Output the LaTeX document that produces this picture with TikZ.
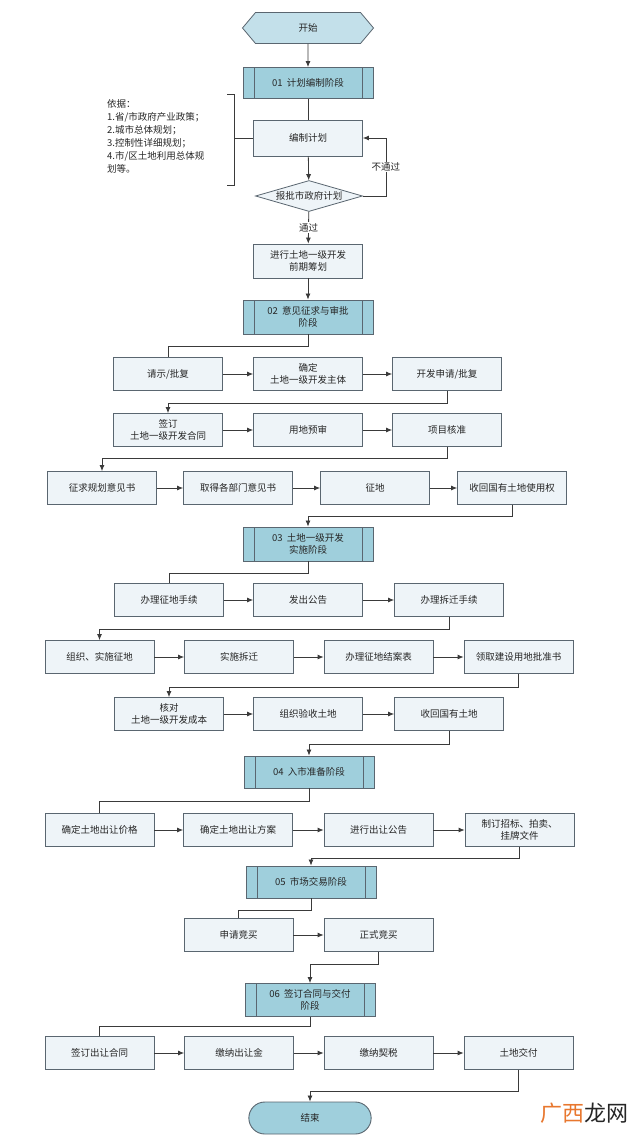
\documentclass[tikz,border=0pt]{standalone}
\usepackage{fontspec}
\setmainfont{Noto Sans CJK SC}
\usetikzlibrary{shapes.geometric,shapes.symbols,shapes.misc,arrows.meta}
\definecolor{ln}{HTML}{3A3A3A}
\definecolor{bxf}{HTML}{EEF4F8}
\definecolor{bxd}{HTML}{5A6670}
\definecolor{stf}{HTML}{9FCFDC}
\definecolor{stt}{HTML}{C3E0EA}
\begin{document}
\begin{tikzpicture}[x=1pt,y=-1pt,
  every node/.style={font=\fontsize{9.5}{12}\selectfont, text=black!85},
  box/.style={draw=bxd, fill=bxf, line width=0.8pt, minimum width=109pt, minimum height=33pt, inner sep=1pt, align=center},
  stage/.style={draw=bxd, fill=stf, line width=0.9pt, minimum width=130pt, minimum height=33pt, inner sep=1pt, align=center,
    path picture={\draw[bxd,line width=0.8pt] ([xshift=11pt]path picture bounding box.north west) -- ([xshift=11pt]path picture bounding box.south west);
                  \draw[bxd,line width=0.8pt] ([xshift=-11pt]path picture bounding box.north east) -- ([xshift=-11pt]path picture bounding box.south east);}},
  arr/.style={draw=ln, line width=0.8pt, -{Latex[length=6pt,width=5pt]}},
  ln/.style={draw=ln, line width=0.8pt}]
\useasboundingbox (0,0) rectangle (640,1143);
\fill[white] (0,0) rectangle (640,1143);
% start
\node[signal, signal to=west and east, signal pointer angle=100, draw=bxd, fill=stt, line width=0.8pt, minimum width=131pt, minimum height=31pt, inner sep=0pt] (st) at (308,28) {开始};
\node[stage, minimum height=31pt] (s1) at (308,83) {01\ \ 计划编制阶段};
\node[box, minimum height=36pt] (plan) at (308,138) {编制计划};
\node[diamond, draw=bxd, fill=bxf, line width=0.8pt, minimum width=107pt, minimum height=31pt, inner sep=0pt, label=center:{报批市政府计划}] (dm) at (309,196) {};
\node[box, minimum height=34pt] (pre) at (308,261) {进行土地一级开发\\前期筹划};
\node[stage, minimum height=34pt] (s2) at (308,317) {02\ \ 意见征求与审批\\阶段};
\node[anchor=north west, align=left, inner sep=0pt, font=\fontsize{9.5}{13}\selectfont] (note) at (107,99) {依据：\\1.省/市政府产业政策；\\2.城市总体规划；\\3.控制性详细规划；\\4.市/区土地利用总体规\\划等。};
\coordinate (bt) at (227,94); \coordinate (bb) at (227,185); \coordinate (bm) at (234,138);
\draw[ln] (bt) -- (234,94) -- (234,185) -- (bb);
\draw[ln] (bm) -- (plan.west);
\draw[arr] (st) -- (s1);
\draw[ln] (s1) -- (plan);
\draw[arr] (plan) -- (dm);
\draw[arr] (dm.east) -- ++(23,0) |- (plan.east) node[pos=0.25, fill=white, inner sep=1pt] {不通过};
\draw[arr] (dm) -- node[fill=white, inner sep=1pt, pos=0.5] {通过} (pre);
\draw[arr] (pre) -- (s2);
% rows 1-3
\node[box] (r1a) at (168,374) {请示/批复};
\node[box] (r1b) at (308,374) {确定\\土地一级开发主体};
\node[box] (r1c) at (447,374) {开发申请/批复};
\node[box] (r2a) at (168,430) {签订\\土地一级开发合同};
\node[box] (r2b) at (308,430) {用地预审};
\node[box] (r2c) at (447,430) {项目核准};
\node[box] (r3a) at (102,488) {征求规划意见书};
\node[box] (r3b) at (238,488) {取得各部门意见书};
\node[box] (r3c) at (375,488) {征地};
\node[box] (r3d) at (512,488) {收回国有土地使用权};
\node[stage, minimum height=34pt] (s3) at (308,544) {03\ \ 土地一级开发\\实施阶段};
\draw[ln] (s2.south) -- ++(0,12) -| (r1a.north);
\draw[arr] (r1a) -- (r1b); \draw[arr] (r1b) -- (r1c);
\draw[arr] (r1c.south) -- ++(0,12) -| (r2a.north);
\draw[arr] (r2a) -- (r2b); \draw[arr] (r2b) -- (r2c);
\draw[arr] (r2c.south) -- ++(0,11) -| (r3a.north);
\draw[arr] (r3a) -- (r3b); \draw[arr] (r3b) -- (r3c); \draw[arr] (r3c) -- (r3d);
\draw[arr] (r3d.south) -- ++(0,11) -| (s3.north);
% rows 4-6
\node[box] (r4a) at (169,600) {办理征地手续};
\node[box] (r4b) at (308,600) {发出公告};
\node[box] (r4c) at (449,600) {办理拆迁手续};
\node[box] (r5a) at (99.5,657) {组织、实施征地};
\node[box] (r5b) at (239,657) {实施拆迁};
\node[box] (r5c) at (378.5,657) {办理征地结案表};
\node[box] (r5d) at (518.5,657) {领取建设用地批准书};
\node[box] (r6a) at (169,714) {核对\\土地一级开发成本};
\node[box] (r6b) at (308,714) {组织验收土地};
\node[box] (r6c) at (449,714) {收回国有土地};
\node[stage, minimum height=32pt] (s4) at (309,772) {04\ \ 入市准备阶段};
\draw[ln] (s3.south) -- ++(0,12) -| (r4a.north);
\draw[arr] (r4a) -- (r4b); \draw[arr] (r4b) -- (r4c);
\draw[arr] (r4c.south) -- ++(0,12) -| (r5a.north);
\draw[arr] (r5a) -- (r5b); \draw[arr] (r5b) -- (r5c); \draw[arr] (r5c) -- (r5d);
\draw[arr] (r5d.south) -- ++(0,13) -| (r6a.north);
\draw[arr] (r6a) -- (r6b); \draw[arr] (r6b) -- (r6c);
\draw[arr] (r6c.south) -- ++(0,13) -| (s4.north);
% rows 7-9
\node[box] (r7a) at (99.5,830) {确定土地出让价格};
\node[box] (r7b) at (238,830) {确定土地出让方案};
\node[box] (r7c) at (378.5,830) {进行出让公告};
\node[box] (r7d) at (519.5,830) {制订招标、拍卖、\\挂牌文件};
\node[stage, minimum height=32pt] (s5) at (311,882) {05\ \ 市场交易阶段};
\node[box] (r8a) at (238.5,935) {申请竞买};
\node[box] (r8b) at (378.5,935) {正式竞买};
\node[stage, minimum height=33pt] (s6) at (310,1000) {06\ \ 签订合同与交付\\阶段};
\node[box] (r9a) at (99.5,1053) {签订出让合同};
\node[box] (r9b) at (239,1053) {缴纳出让金};
\node[box] (r9c) at (378.5,1053) {缴纳契税};
\node[box] (r9d) at (518.5,1053) {土地交付};
\node[rounded rectangle, draw=bxd, fill=stf, line width=0.9pt, minimum width=129pt, minimum height=32pt] (end) at (310,1118) {结束};
\draw[ln] (s4.south) -- ++(0,13) -| (r7a.north);
\draw[arr] (r7a) -- (r7b); \draw[arr] (r7b) -- (r7c); \draw[arr] (r7c) -- (r7d);
\draw[arr] (r7d.south) -- ++(0,11) -| (s5.north);
\draw[ln] (s5.south) -- ++(0,12) -| (r8a.north);
\draw[arr] (r8a) -- (r8b);
\draw[arr] (r8b.south) -- ++(0,12) -| (s6.north);
\draw[ln] (s6.south) -- ++(0,9) -| (r9a.north);
\draw[arr] (r9a) -- (r9b); \draw[arr] (r9b) -- (r9c); \draw[arr] (r9c) -- (r9d);
\draw[arr] (r9d.south) -- ++(0,21) -| (end.north);
% watermark
\node[anchor=west, inner sep=0pt, font=\fontsize{22}{24}\selectfont] (wm) at (540,1113) {\textcolor[HTML]{E8772E}{广西}\textcolor{black!85}{龙网}};
\end{tikzpicture}
\end{document}
